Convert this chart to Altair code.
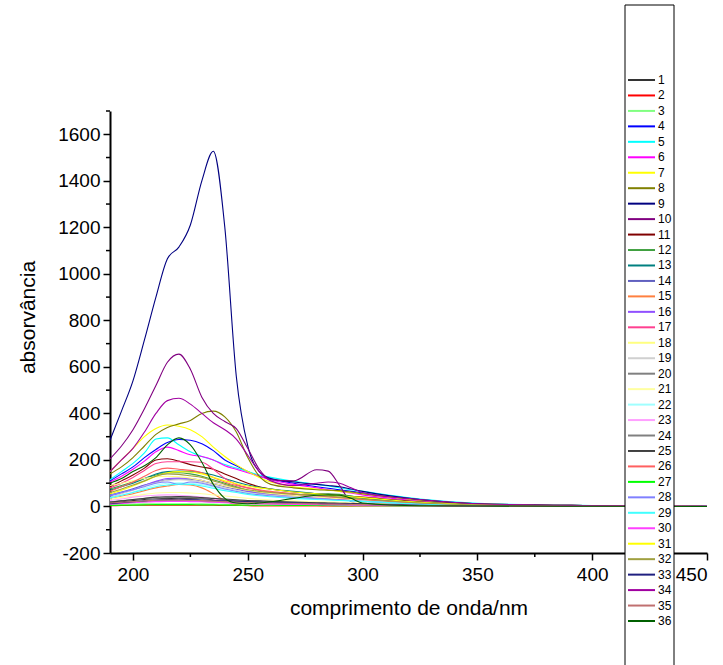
import altair as alt
import pandas as pd

# Wavelength grid (nm) shared by every spectrum
wavelength = [190, 195, 200, 205, 210, 215, 220, 225, 230, 235, 240, 245, 250,
              255, 260, 270, 280, 285, 290, 295, 300, 325, 350, 400, 450]

s01 = [15, 20, 25, 30, 33, 35, 36, 35, 33, 30, 27, 24, 22, 20, 18, 16, 14, 13, 12, 11, 10, 6, 3, 1, 0]
s02 = [3, 4, 5, 6, 6, 6, 6, 6, 5, 5, 4, 4, 4, 3, 3, 3, 3, 2, 2, 2, 2, 1, 1, 0, 0]
s03 = [8, 9, 10, 11, 12, 12, 12, 12, 11, 10, 9, 8, 8, 7, 7, 6, 5, 5, 5, 4, 4, 3, 2, 1, 0]
s04 = [110, 140, 170, 210, 245, 275, 288, 285, 270, 240, 200, 175, 150, 130, 118, 100, 85, 78, 72, 65, 58, 30, 12, 4, 1]
s05 = [115, 150, 185, 230, 290, 295, 265, 235, 215, 200, 180, 165, 150, 135, 125, 108, 95, 88, 80, 72, 65, 32, 14, 4, 1]
s06 = [105, 130, 160, 195, 235, 255, 240, 222, 215, 200, 175, 160, 145, 130, 115, 95, 80, 72, 65, 58, 50, 25, 10, 3, 1]
s07 = [150, 200, 250, 300, 335, 350, 345, 330, 300, 255, 215, 180, 150, 125, 105, 85, 75, 70, 65, 60, 55, 28, 12, 4, 1]
s08 = [140, 170, 210, 260, 310, 340, 355, 370, 400, 410, 385, 320, 210, 130, 95, 80, 72, 70, 68, 62, 55, 28, 12, 4, 1]
s09 = [285, 410, 540, 716, 900, 1065, 1115, 1210, 1400, 1527, 1200, 560, 260, 150, 120, 105, 95, 90, 85, 75, 65, 30, 12, 4, 1]
s10 = [205, 260, 330, 420, 520, 620, 655, 590, 470, 400, 365, 335, 250, 160, 115, 110, 158, 152, 90, 20, 8, 3, 2, 1, 0]
s11 = [85, 110, 135, 165, 200, 205, 195, 180, 170, 160, 140, 120, 100, 85, 75, 62, 55, 52, 48, 44, 40, 20, 8, 2, 0]
s12 = [75, 90, 105, 120, 135, 145, 145, 140, 130, 115, 100, 85, 70, 60, 55, 50, 52, 55, 52, 45, 35, 15, 6, 2, 0]
s13 = [70, 85, 100, 120, 140, 150, 152, 150, 145, 135, 120, 105, 92, 82, 75, 65, 55, 50, 45, 40, 35, 18, 8, 2, 0]
s14 = [50, 62, 76, 92, 105, 115, 118, 117, 110, 98, 85, 74, 64, 56, 50, 42, 36, 33, 30, 27, 24, 12, 5, 2, 0]
s15 = [35, 45, 55, 68, 80, 88, 95, 92, 80, 55, 25, 8, 3, 2, 2, 2, 2, 2, 2, 1, 1, 1, 0, 0, 0]
s16 = [45, 58, 72, 90, 108, 120, 122, 120, 112, 100, 88, 76, 66, 58, 52, 43, 37, 34, 31, 28, 25, 12, 5, 2, 0]
s17 = [80, 100, 125, 155, 185, 192, 192, 192, 190, 160, 120, 95, 80, 70, 62, 50, 42, 40, 37, 34, 30, 15, 6, 2, 0]
s18 = [90, 100, 110, 120, 128, 130, 128, 122, 112, 100, 88, 78, 70, 62, 56, 48, 40, 37, 34, 30, 27, 13, 6, 2, 0]
s19 = [40, 55, 70, 88, 102, 112, 115, 112, 104, 92, 80, 70, 60, 53, 48, 43, 42, 42, 40, 35, 28, 12, 5, 2, 0]
s20 = [20, 25, 30, 34, 37, 38, 39, 38, 36, 33, 30, 27, 25, 23, 21, 18, 16, 15, 14, 13, 12, 7, 3, 1, 0]
s21 = [30, 38, 45, 52, 58, 60, 60, 58, 55, 50, 45, 40, 35, 31, 28, 24, 20, 19, 18, 16, 15, 8, 3, 1, 0]
s22 = [35, 48, 62, 78, 92, 100, 102, 100, 94, 84, 74, 65, 57, 50, 45, 38, 32, 30, 27, 24, 22, 10, 4, 1, 0]
s23 = [25, 32, 40, 45, 48, 50, 48, 45, 40, 32, 22, 15, 10, 8, 7, 6, 5, 5, 4, 4, 3, 2, 1, 0, 0]
s24 = [10, 14, 18, 21, 24, 25, 25, 24, 22, 20, 18, 16, 14, 13, 12, 10, 9, 8, 8, 7, 6, 4, 2, 1, 0]
s25 = [18, 24, 30, 35, 40, 42, 43, 42, 38, 35, 32, 29, 26, 24, 22, 19, 16, 15, 14, 13, 12, 6, 3, 1, 0]
s26 = [65, 85, 105, 130, 155, 165, 160, 155, 145, 125, 105, 90, 80, 72, 65, 55, 46, 42, 38, 34, 30, 14, 6, 2, 0]
s27 = [4, 5, 6, 7, 8, 8, 8, 8, 7, 7, 6, 6, 5, 5, 5, 4, 4, 4, 3, 3, 3, 2, 1, 0, 0]
s28 = [48, 60, 72, 85, 100, 105, 95, 105, 100, 88, 75, 65, 56, 50, 45, 38, 33, 31, 28, 25, 22, 10, 4, 1, 0]
s29 = [38, 48, 60, 72, 85, 92, 96, 95, 88, 78, 68, 60, 52, 46, 42, 35, 30, 28, 26, 24, 22, 10, 4, 1, 0]
s30 = [10, 13, 16, 19, 21, 22, 22, 21, 20, 18, 16, 14, 13, 12, 11, 9, 8, 7, 7, 6, 6, 3, 1, 0, 0]
s31 = [55, 70, 88, 108, 130, 145, 150, 148, 140, 125, 110, 98, 88, 80, 74, 62, 54, 50, 46, 42, 38, 18, 8, 2, 0]
s32 = [60, 75, 92, 110, 130, 140, 138, 132, 125, 110, 95, 82, 72, 65, 60, 53, 47, 44, 40, 36, 32, 15, 7, 2, 0]
s33 = [12, 16, 20, 24, 28, 30, 31, 30, 28, 26, 24, 22, 20, 18, 17, 15, 13, 12, 11, 10, 9, 5, 2, 1, 0]
s34 = [150, 200, 250, 320, 400, 455, 465, 440, 400, 360, 330, 290, 220, 150, 110, 90, 100, 105, 100, 80, 60, 30, 12, 4, 1]
s35 = [15, 18, 21, 24, 27, 28, 28, 27, 25, 23, 21, 19, 17, 16, 15, 13, 11, 10, 10, 9, 8, 4, 2, 1, 0]
s36 = [100, 120, 150, 175, 210, 265, 295, 265, 190, 95, 35, 15, 12, 15, 20, 35, 48, 50, 48, 35, 15, 3, 2, 1, 0]

spectra = [s01, s02, s03, s04, s05, s06, s07, s08, s09, s10, s11, s12,
           s13, s14, s15, s16, s17, s18, s19, s20, s21, s22, s23, s24,
           s25, s26, s27, s28, s29, s30, s31, s32, s33, s34, s35, s36]

labels = [str(i) for i in range(1, 37)]

colors = ["#333333", "#ff0000", "#80ff80", "#0000ff", "#00ffff", "#ff00ff",
          "#ffff00", "#808000", "#000080", "#800080", "#800000", "#40a040",
          "#008080", "#6060c0", "#ff8040", "#9050ff", "#ff4090", "#ffff80",
          "#d0d0d0", "#808080", "#ffffa0", "#a0ffff", "#ffa0ff", "#808080",
          "#404040", "#ff6060", "#00ff00", "#8080ff", "#40ffff", "#ff40ff",
          "#ffff00", "#a0a040", "#202080", "#a000a0", "#c07070", "#006000"]

y_ticks = [-200, 0, 200, 400, 600, 800, 1000, 1200, 1400, 1600]
y_minor = [-100, 100, 300, 500, 700, 900, 1100, 1300, 1500, 1700]
x_ticks = [200, 250, 300, 350, 400, 450]
x_minor = [225, 275, 325, 375, 425]

rows = []
for lab, vals in zip(labels, spectra):
    for w, v in zip(wavelength, vals):
        rows.append({"serie": lab, "nm": w, "abs": v})
df = pd.DataFrame(rows)

W, H = 597, 442
FONT = "Liberation Sans"

xscale = alt.Scale(domain=[190, 450], nice=False, zero=False)
yscale = alt.Scale(domain=[-200, 1700], nice=False, zero=False)
cscale = alt.Scale(domain=labels, range=colors)

x_axis = alt.Axis(values=x_ticks, title="comprimento de onda/nm",
                  labelExpr="toString(datum.value)",
                  titleY=55, titleBaseline="middle", labelPadding=5)
y_axis = alt.Axis(values=y_ticks, title="absorvância",
                  labelExpr="toString(datum.value)",
                  titleX=-82, titleY=206, titleBaseline="middle",
                  labelPadding=3)

lines = alt.Chart(df).mark_line(strokeWidth=1.1, interpolate="monotone").encode(
    x=alt.X("nm:Q", scale=xscale, axis=x_axis),
    y=alt.Y("abs:Q", scale=yscale, axis=y_axis),
    color=alt.Color("serie:N", scale=cscale, legend=None),
)

# minor ticks between the labelled ones
y_minor_ticks = alt.Chart(pd.DataFrame({"v": y_minor})).mark_rule(
    color="black", strokeWidth=1.5
).encode(
    y=alt.Y("v:Q", scale=yscale, axis=None),
    x=alt.value(-4), x2=alt.value(0),
)
x_minor_ticks = alt.Chart(pd.DataFrame({"v": x_minor})).mark_rule(
    color="black", strokeWidth=1.5
).encode(
    x=alt.X("v:Q", scale=xscale, axis=x_axis),
    y=alt.value(H), y2=alt.value(H + 4),
)

# legend panel drawn over the plot
leg_df = pd.DataFrame({"serie": labels})
leg_y = alt.Y("serie:N", sort=labels,
              scale=alt.Scale(type="point", range=[-31, 510], padding=0),
              axis=None)

leg_box = alt.Chart(pd.DataFrame({"b": [0]})).mark_rect(
    fill="white", stroke="black", strokeWidth=1
).encode(
    x=alt.value(515), x2=alt.value(564), y=alt.value(-106), y2=alt.value(620)
)
leg_lines = alt.Chart(leg_df).mark_rule(strokeWidth=2).encode(
    y=leg_y, x=alt.value(518), x2=alt.value(545),
    color=alt.Color("serie:N", scale=cscale, legend=None),
)
leg_text = alt.Chart(leg_df).mark_text(
    align="left", baseline="middle", fontSize=12, font=FONT, color="black"
).encode(
    y=leg_y, x=alt.value(548), text="serie:N"
)

chart = alt.layer(
    lines, y_minor_ticks, x_minor_ticks, leg_box, leg_lines, leg_text
).resolve_scale(
    y="independent"
).properties(
    width=W, height=H,
    autosize=alt.AutoSizeParams(type="none"),
    padding={"left": 110, "top": 111, "right": 16, "bottom": 112},
    background="white",
).configure_view(
    stroke=None
).configure_axis(
    grid=False,
    domainColor="black", domainWidth=2,
    tickColor="black", tickWidth=1.5, tickSize=7,
    labelFont=FONT, labelFontSize=19, labelColor="black",
    titleFont=FONT, titleFontSize=21, titleFontWeight="normal", titleColor="black",
)

chart.save("out.html", embed_options={"renderer": "svg", "actions": False})
